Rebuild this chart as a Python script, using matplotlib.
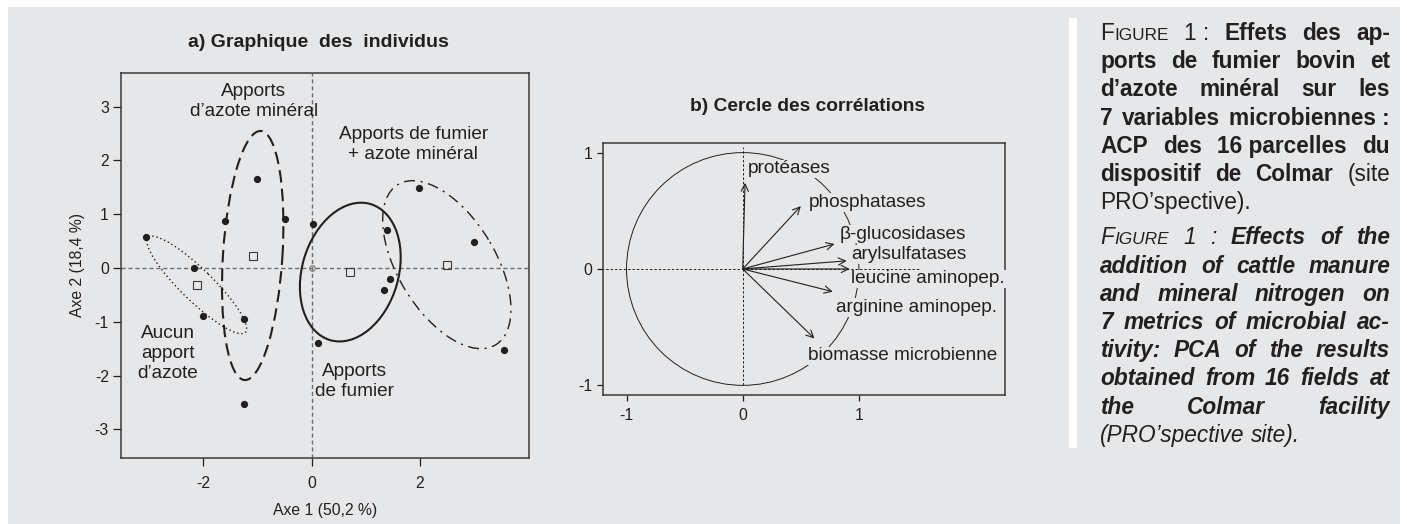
import numpy as np
import matplotlib
matplotlib.use("Agg")
import matplotlib.pyplot as plt
from matplotlib.patches import Ellipse, Rectangle, Circle
from matplotlib.transforms import IdentityTransform

plt.rcParams['font.family'] = ['Liberation Sans', 'DejaVu Sans']
plt.rcParams['axes.unicode_minus'] = False

W, H = 1407, 524
BG = '#e6e7e8'
INK = '#231f20'

# ---------------- data: a) individuals ----------------
ind_x = [-3.06, -2.17, -2.00, -1.25, -1.59, -1.01, -0.50, -1.25,
         0.02, 0.11, 1.39, 1.34, 1.45, 1.98, 3.00, 3.56]
ind_y = [0.57, 0.00, -0.89, -0.94, 0.88, 1.65, 0.92, -2.52,
         0.81, -1.40, 0.70, -0.41, -0.20, 1.48, 0.49, -1.52]
ind_grp = [0, 0, 0, 0, 1, 1, 1, 1, 2, 2, 2, 2, 3, 3, 3, 3]
grp_labels = ["Aucun\napport\nd\u2019azote",
              "Apports\nd\u2019azote minéral",
              "Apports\nde fumier",
              "Apports de fumier\n+ azote minéral"]
grp_label_xy = [(-2.66, -1.59), (-1.07, 3.09), (0.80, -2.11), (1.88, 2.30)]
grp_styles = [(0, (1, 2)), (0, (6, 3)), '-', (0, (8, 4, 1.5, 4))]
grp_lw = [1.0, 1.5, 1.5, 1.0]

# ---------------- data: b) correlation circle ----------------
var_names = ["protéases", "phosphatases", "\u03b2-glucosidases", "arylsulfatases",
             "leucine aminopep.", "arginine aminopep.", "biomasse microbienne"]
var_x = [0.02, 0.50, 0.79, 0.895, 0.92, 0.775, 0.617]
var_y = [0.74, 0.54, 0.215, 0.07, 0.0, -0.195, -0.597]
var_label_xy = [(0.043, 0.86), (0.565, 0.571), (0.832, 0.30), (0.933, 0.126),
                (0.933, -0.086), (0.806, -0.33), (0.56, -0.746)]

#####################################################################
fig = plt.figure(figsize=(W / 100, H / 100), dpi=100)
fig.patch.set_facecolor('white')
fig.add_artist(Rectangle((8 / W, 0), (1400 - 8) / W, (H - 7) / H,
                         transform=fig.transFigure, facecolor=BG,
                         edgecolor='none', zorder=-10))
fig.add_artist(Rectangle((1069 / W, 1 - 448 / H), 8 / W, (448 - 18) / H,
                         transform=fig.transFigure, facecolor='white',
                         edgecolor='none', zorder=-9))


def px_axes(l, r, t, b):
    return fig.add_axes([l / W, 1 - b / H, (r - l) / W, (b - t) / H])


def style_axes(ax, ticklen):
    ax.set_facecolor('none')
    for s in ['left', 'bottom', 'top', 'right']:
        ax.spines[s].set_color('#3a3a3a')
        ax.spines[s].set_linewidth(1.1)
    ax.tick_params(colors=INK, labelsize=11.3, length=ticklen, width=0.9,
                   labelcolor=INK)


######################## a) Graphique des individus ########################
ax = px_axes(121, 528.7, 72.7, 458)
style_axes(ax, 5.8)
ax.set_xlim(-3.52, 4.01)
ax.set_ylim(-3.53, 3.63)
ax.set_xticks([-2, 0, 2])
ax.set_yticks([-3, -2, -1, 0, 1, 2, 3])
ax.tick_params(axis='x', pad=7)
ax.tick_params(axis='y', pad=3)
ax.axhline(0, color='#6d6e70', lw=1.0, ls=(0, (3, 2)), zorder=1)
ax.axvline(0, color='#6d6e70', lw=1.0, ls=(0, (3, 2)), zorder=1)
ax.plot([0], [0], 'o', ms=4, mfc='none', mec='#777777', mew=0.8, zorder=2)

xs = np.array(ind_x)
ys = np.array(ind_y)
gs = np.array(ind_grp)
for g in range(4):
    gx, gy = xs[gs == g], ys[gs == g]
    mx, my = gx.mean(), gy.mean()
    cov = np.cov(np.vstack([gx, gy]), bias=True)
    vals, vecs = np.linalg.eigh(cov)
    k = 1.43
    ang = np.degrees(np.arctan2(vecs[1, 1], vecs[0, 1]))
    ax.add_patch(Ellipse((mx, my), 2 * k * np.sqrt(vals[1]), 2 * k * np.sqrt(vals[0]),
                         angle=ang, fill=False, ec=INK, lw=grp_lw[g],
                         ls=grp_styles[g], zorder=3))
    ax.plot([mx], [my], 's', ms=5.5, mfc='none', mec='#3a3a3a', mew=0.8, zorder=4)
    lx, ly = grp_label_xy[g]
    ax.text(lx, ly, grp_labels[g], ha='center', va='center', fontsize=13.7,
            color=INK, linespacing=1.25, zorder=5)

ax.plot(xs, ys, 'o', ms=4.2, color=INK, zorder=5)
ax.set_xlabel("Axe 1 (50,2 %)", fontsize=11.3, color=INK, labelpad=9)
ax.set_ylabel("Axe 2 (18,4 %)", fontsize=11.3, color=INK, labelpad=7)
fig.text(318 / W, 1 - 43 / H, "a) Graphique  des  individus", ha='center',
         va='center', fontsize=14, fontweight='bold', color=INK)

######################## b) Cercle des corrélations ########################
bx = px_axes(602.7, 1005.3, 143.3, 395)
style_axes(bx, 4.3)
bx.set_xlim(-1.205, 2.26)
bx.set_ylim(-1.083, 1.08)
bx.set_xticks([-1, 0, 1])
bx.set_yticks([-1, 0, 1])
bx.tick_params(axis='x', pad=5)
bx.tick_params(axis='y', pad=3)
bx.add_patch(Circle((0, 0), 1, fill=False, ec=INK, lw=0.7, zorder=1))
bx.plot([-1.25, 1.52], [0, 0], color=INK, lw=0.7, ls=(0, (2.5, 2)), zorder=1)
bx.plot([0, 0], [-1.0, 1.05], color=INK, lw=0.7, ls=(0, (2.5, 2)), zorder=1)
for name, vx, vy, (lx, ly) in zip(var_names, var_x, var_y, var_label_xy):
    bx.annotate('', xy=(vx, vy), xytext=(0, 0),
                arrowprops=dict(arrowstyle='->', lw=0.8, color=INK,
                                mutation_scale=13, shrinkA=0, shrinkB=0),
                zorder=4)
    bx.text(lx, ly, name, ha='left', va='center', fontsize=13.7, color=INK,
            bbox=dict(facecolor=BG, edgecolor='none', pad=0.5), zorder=3)
fig.text(807 / W, 1 - 106.7 / H, "b) Cercle des corrélations", ha='center',
         va='center', fontsize=13.8, fontweight='bold', color=INK)

######################## caption ########################
CS = 16.3
styles = {
    'r': dict(fontsize=CS),
    'b': dict(fontsize=CS, fontweight='bold'),
    'i': dict(fontsize=CS, fontstyle='italic'),
    'bi': dict(fontsize=CS, fontweight='bold', fontstyle='italic'),
    'sc': dict(fontsize=CS * 0.76),
    'sci': dict(fontsize=CS * 0.76, fontstyle='italic'),
}

cap_fr = [
    [("F", 'r'), ("IGURE", 'sc'), (" 1~:", 'r'), (" Effets des ap-", 'b')],
    [("ports de fumier bovin et", 'b')],
    [("d\u2019azote minéral sur les", 'b')],
    [("7 variables microbiennes~:", 'b')],
    [("ACP des 16~parcelles du", 'b')],
    [("dispositif de Colmar", 'b'), (" (site", 'r')],
    [("PRO\u2019spective).", 'r')],
]
cap_en = [
    [("F", 'i'), ("IGURE", 'sci'), (" 1 :", 'i'), (" Effects of the", 'bi')],
    [("addition of cattle manure", 'bi')],
    [("and mineral nitrogen on", 'bi')],
    [("7 metrics of microbial ac-", 'bi')],
    [("tivity: PCA of the results", 'bi')],
    [("obtained from 16 fields at", 'bi')],
    [("the Colmar facility", 'bi')],
    [("(PRO\u2019spective site).", 'i')],
]


def to_words(segs):
    words = [[]]
    for txt, key in segs:
        for k, p in enumerate(txt.split(' ')):
            if k > 0:
                words.append([])
            if p:
                words[-1].append((p.replace('~', ' '), key))
    return [w for w in words if w]


renderer = fig.canvas.get_renderer()


def run_width(s, key):
    t = fig.text(0, 0, s, transform=IdentityTransform(), **styles[key])
    w = t.get_window_extent(renderer).width
    t.remove()
    return w


def draw_line(segs, y_top, justify, left=1100, right=1390):
    words = to_words(segs)
    widths = [[run_width(s, k) for s, k in w] for w in words]
    tot = sum(sum(w) for w in widths)
    space = 0.278 * CS * 100 / 72
    gap = space
    if justify and len(words) > 1:
        gap = max((right - left - tot) / (len(words) - 1), 0.55 * space)
    x = left
    ybase = H - y_top
    for w, ws in zip(words, widths):
        for (s, k), rw in zip(w, ws):
            fig.text(x, ybase, s, transform=IdentityTransform(), va='baseline',
                     ha='left', color=INK, **styles[k])
            x += rw
        x += gap


LS = 28.2
y0 = 40
for i, segs in enumerate(cap_fr):
    draw_line(segs, y0 + i * LS, i < len(cap_fr) - 1)
y1 = y0 + len(cap_fr) * LS + 7
for i, segs in enumerate(cap_en):
    draw_line(segs, y1 + i * LS, i < len(cap_en) - 1)

fig.savefig("out.png", dpi=100, facecolor='white')
